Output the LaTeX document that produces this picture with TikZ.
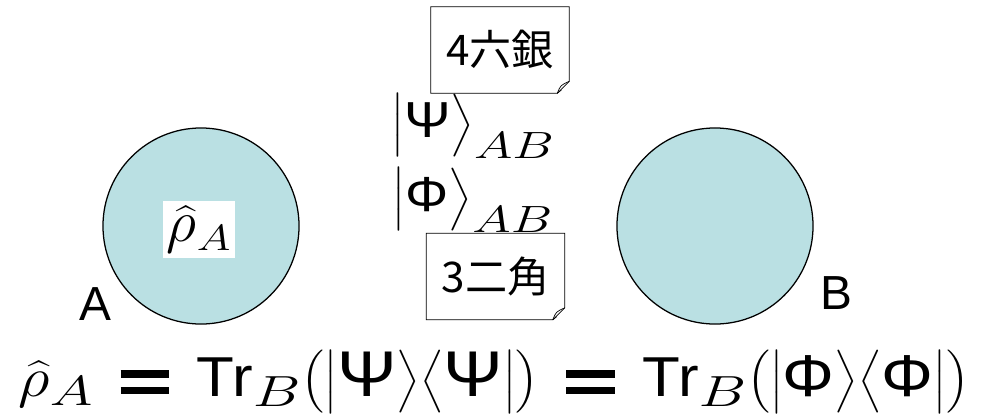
\documentclass[tikz,border=0pt]{standalone}
\usepackage{fix-cm}
\usepackage{amsmath}
\usepackage{graphicx}
\usepackage{fontspec}
\setmainfont{Liberation Sans}
\newfontfamily\cjk{Noto Sans CJK JP}
\usetikzlibrary{positioning}
\definecolor{ballblue}{RGB}{186,224,227}

\newcommand{\fsz}[1]{\fontsize{#1}{#1}\selectfont}
% wide equals sign with heavy bars
\newcommand{\eqbar}{\mathrel{\mkern3mu\vcenter{\hrule width 31.5pt height 5pt
  \kern 6.4pt \hrule width 31.5pt height 5pt}\mkern3mu}}
% stretched subscripts
\newcommand{\subx}[2]{_{\hbox{\scalebox{1.25}[1]{\fsz{#2}$#1$}}}}
\newcommand{\gk}[2]{\textrm{\fsz{#2}#1}}
% outline of a note with the lower right corner turned up
\newcommand{\foldnote}[1]{%
  \draw[line width=0.6pt] (#1.north west) -- (#1.north east)
    -- ([yshift=0.3cm]#1.south east) -- ([xshift=-0.3cm]#1.south east)
    -- (#1.south west) -- cycle;
  \draw[line width=0.5pt] ([xshift=-0.3cm]#1.south east)
    .. controls ([xshift=-0.22cm,yshift=0.2cm]#1.south east) .. ([yshift=0.3cm]#1.south east);
  \draw[line width=0.5pt] ([xshift=-0.3cm]#1.south east)
    -- ([xshift=-0.2cm,yshift=0.08cm]#1.south east);}

\begin{document}
\begin{tikzpicture}[x=0.025cm, y=-0.025cm,
  ball/.style={circle, draw, fill=ballblue, line width=0.9pt,
    minimum size=4.9cm, inner sep=0pt},
  note/.style={minimum width=3.45cm, minimum height=2.15cm, inner sep=0pt,
    font=\fsz{30}\cjk},
  side/.style={font=\fsz{34}},
  ket/.style={font=\fontsize{34}{46}\selectfont, inner sep=0pt}]
  \useasboundingbox (0,0) rectangle (992,415);

  % the two parts
  \node[ball] (partA) at (201,226) {};
  \node[ball] (partB) at (715,226) {};
  \node[fill=white, inner sep=0pt, minimum width=1.8cm, minimum height=1.42cm,
    font=\fsz{42}] (rhoA) at (199,229.5) {$\widehat{\rho}\subx{A}{26}$};
  \node[side] (labA) at (95,304) {A};
  \node[side] (labB) at (836,293) {B};

  % states and the two notes
  \node[note] (mv4) at (500,50) {4六銀};
  \node[note] (mv3) at (495.5,276.5) {3二角};
  \foldnote{mv4}
  \foldnote{mv3}
  \node[ket] (psi) at (473,126) {\scalebox{1.1}[1]{$\bigl|\gk{Ψ}{36}\bigr\rangle\subx{AB}{27}$}};
  \node[ket] (phi) at (473,200) {\scalebox{1.1}[1]{$\bigl|\gk{Φ}{35}\bigr\rangle\subx{AB}{27}$}};

  % reduced state
  \node[font=\fontsize{40}{48}\selectfont, inner sep=0pt] (trace) at (494,382)
    {\scalebox{1.1}[1]{$\widehat{\rho}\subx{A}{30} \eqbar \textrm{Tr}\subx{B}{31}\bigl(\bigl|\gk{Ψ}{46}\bigr\rangle
      \bigl\langle\gk{Ψ}{46}\bigr|\bigr)
      \eqbar \textrm{Tr}\subx{B}{31}\bigl(\bigl|\gk{Φ}{42}\bigr\rangle\bigl\langle\gk{Φ}{42}\bigr|\bigr)$}};
\end{tikzpicture}
\end{document}
